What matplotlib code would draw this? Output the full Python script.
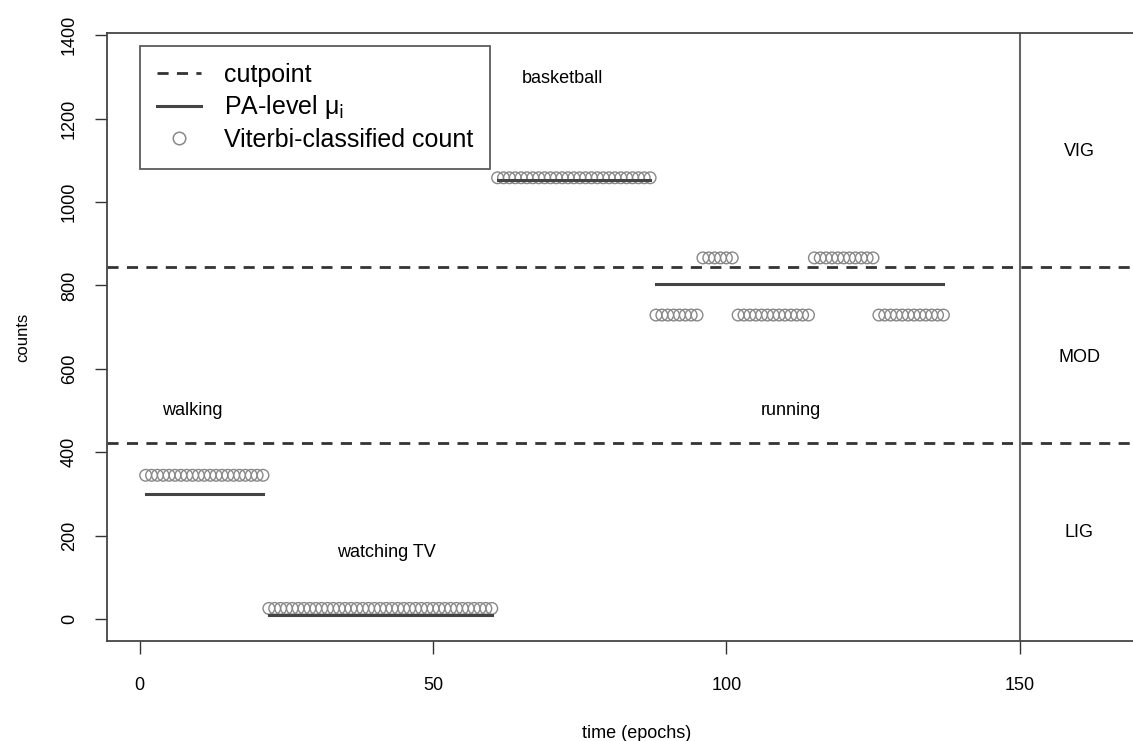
import numpy as np
import matplotlib.pyplot as plt
from matplotlib.lines import Line2D

plt.rcParams['font.family'] = ['Liberation Sans', 'DejaVu Sans']

# Viterbi-classified counts per epoch (segments)
walk_t = np.arange(1, 22)
walk_c = [345] * len(walk_t)
tv_t = np.arange(22, 61)
tv_c = [26] * len(tv_t)
bball_t = np.arange(61, 88)
bball_c = [1058] * len(bball_t)
run_t = np.arange(88, 138)
run_c = ([729] * 8 + [866] * 6 + [729] * 13 + [866] * 11 + [729] * 12)

# PA-level means: (start, end, mu)
mu_start = [1, 22, 61, 88]
mu_end = [21, 60, 87, 137]
mu_val = [300, 10, 1052, 803]

cutpoints = [422, 844]
split_time = 150

activity_labels = ['walking', 'watching TV', 'basketball', 'running']
activity_x = [9, 42, 72, 111]
activity_y = [501, 160, 1297, 501]

level_labels = ['VIG', 'MOD', 'LIG']
level_y = [1120, 628, 209]

fig = plt.figure(figsize=(11.33, 7.41), dpi=100)
ax = fig.add_axes([0.0944, 0.135, 0.935, 0.8205])

grey = '#888888'
for t, c in [(walk_t, walk_c), (tv_t, tv_c), (bball_t, bball_c), (run_t, run_c)]:
    ax.scatter(t, c, s=70, facecolors='none', edgecolors=grey, linewidths=1.0, zorder=3)

for s, e, m in zip(mu_start, mu_end, mu_val):
    ax.plot([s, e], [m, m], color='#444444', lw=2.2, zorder=4)

for cp in cutpoints:
    ax.axhline(cp, color='#333333', lw=2, ls=(0, (4, 3)), zorder=2)

ax.axvline(split_time, color='#666666', lw=1.5)

for lab, x, y in zip(activity_labels, activity_x, activity_y):
    ax.text(x, y, lab, fontsize=13, ha='center', va='center')
for lab, y in zip(level_labels, level_y):
    ax.text(160.2, y, lab, fontsize=13, ha='center', va='center')

ax.set_xlim(-5.6, 175)
ax.set_ylim(-52, 1405)
ax.set_xticks([0, 50, 100, 150])
ax.set_yticks(range(0, 1401, 200))
for lab in ax.get_yticklabels():
    lab.set_rotation(90)
    lab.set_va('center')
ax.tick_params(axis='both', labelsize=13, length=9, width=1, color='#333333', direction='out')
ax.tick_params(axis='x', pad=17)
ax.tick_params(axis='y', pad=12)
for side in ['left', 'bottom', 'top']:
    ax.spines[side].set_color('#444444')
    ax.spines[side].set_linewidth(1.3)
ax.spines['right'].set_visible(False)

ax.set_xlabel('time (epochs)', fontsize=13, labelpad=22)
ax.set_ylabel('counts', fontsize=12, labelpad=22)

handles = [
    Line2D([], [], color='#333333', lw=2, ls=(0, (4, 3))),
    Line2D([], [], color='#444444', lw=2.2),
    Line2D([], [], ls='none', marker='o', markersize=9, markerfacecolor='none',
           markeredgecolor=grey, markeredgewidth=1.1),
]
leg = ax.legend(handles, ['cutpoint', 'PA-level μ$_\\mathrm{i}$', 'Viterbi-classified count'],
                loc='upper left', bbox_to_anchor=(0.031, 0.979), borderaxespad=0,
                fontsize=18, frameon=True, fancybox=False, handlelength=1.75,
                labelspacing=0.25, borderpad=0.7, handletextpad=0.9)
leg.get_frame().set_edgecolor('#333333')
leg.get_frame().set_linewidth(1.3)

fig.savefig('out.png', dpi=100)
